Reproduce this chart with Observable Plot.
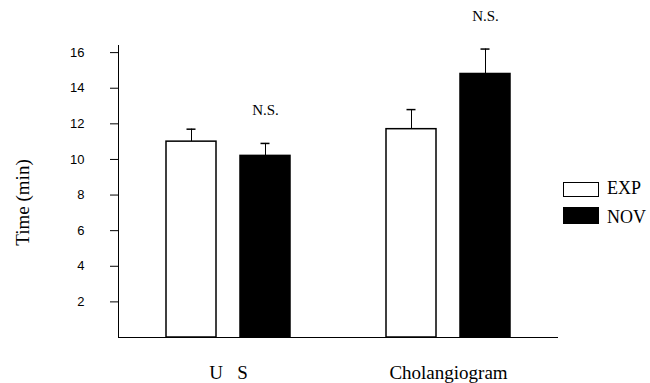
<!DOCTYPE html>
<html><head><meta charset="utf-8">
<script src="https://cdn.jsdelivr.net/npm/d3@7"></script>
<script src="https://cdn.jsdelivr.net/npm/@observablehq/plot@0.6"></script>
<style>
body{margin:0;background:#fff;}
#wrap{position:relative;width:650px;height:383px;background:#fff;}
.leg{position:absolute;left:563px;font-family:"Liberation Serif","Times New Roman",serif;font-size:18px;color:#000;line-height:1;}
.leg .box{position:absolute;left:0;width:36px;box-sizing:border-box;border:1.5px solid #000;}
.leg .lbl{position:absolute;left:44px;white-space:nowrap;}
</style></head><body><div id="wrap"></div>
<script>
const groups = ["U S", "Cholangiogram"];
const series = ["EXP", "NOV"];
const meansUS = [11.0, 10.2];
const meansChol = [11.7, 14.8];
const errUS = [0.7, 0.7];
const errChol = [1.1, 1.4];
const sigLabels = ["N.S.", "N.S."];
const yTicks = [2, 4, 6, 8, 10, 12, 14, 16];
const yLabel = "Time (min)";

const rows = [];
groups.forEach((g, gi) => {
  const m = gi === 0 ? meansUS : meansChol;
  const e = gi === 0 ? errUS : errChol;
  series.forEach((s, si) => rows.push({group: g, series: s, mean: m[si], top: m[si] + e[si]}));
});
const sigRows = groups.map((g, gi) => {
  const r = rows.filter(d => d.group === g && d.series === "NOV")[0];
  return {group: g, series: "NOV", top: r.top, label: sigLabels[gi]};
});

const serif = "Liberation Serif, Times New Roman, serif";
const chart = Plot.plot({
  width: 650,
  height: 383,
  marginLeft: 118,
  marginRight: 92,
  marginTop: 45,
  marginBottom: 46,
  style: {background: "#fff", color: "#000"},
  fx: {domain: groups, padding: 0, label: null},
  x: {domain: series, paddingInner: 0.324, paddingOuter: 0.648, axis: null},
  y: {domain: [0, 16.4], axis: null},
  marks: [
    Plot.axisFx({anchor: "bottom", tickSize: 0, tickPadding: 28, fontSize: 19, fontFamily: serif, label: null,
      tickFormat: d => d.replace(" ", "\u00a0\u00a0\u00a0")}),
    Plot.axisY({ticks: yTicks, tickSize: 8, tickPadding: 26, fontSize: 13, fontFamily: "Liberation Sans, Arial, sans-serif", label: null, strokeWidth: 1}),
    Plot.frame({anchor: "left", fx: [groups[0]], stroke: "#000", strokeWidth: 1}),
    Plot.text([yLabel], {fx: () => groups[0], frameAnchor: "left", textAnchor: "middle", rotate: -90, dx: -96, dy: 11, fontSize: 19, fontFamily: serif, fill: "#000"}),
    Plot.ruleX(rows, {fx: "group", x: "series", y1: "mean", y2: "top", stroke: "#000", strokeWidth: 1}),
    Plot.tickY(rows, {fx: "group", x: "series", y: "top", stroke: "#000", strokeWidth: 1.5, insetLeft: 20.5, insetRight: 20.5}),
    Plot.barY(rows, {fx: "group", x: "series", y: "mean", fill: d => d.series === "EXP" ? "#fff" : "#000", stroke: "#000", strokeWidth: 1.5}),
    Plot.ruleY([0], {stroke: "#000", strokeWidth: 1.2}),
    Plot.text(sigRows, {fx: "group", x: "series", y: "top", text: "label", dy: -33, fontSize: 15, fontFamily: serif, fill: "#000"})
  ]
});
const wrap = document.getElementById("wrap");
wrap.appendChild(chart);
series.forEach((s, i) => {
  const item = document.createElement("div");
  item.className = "leg";
  item.style.top = (i === 0 ? 182 : 207) + "px";
  const box = document.createElement("div");
  box.className = "box";
  box.style.height = (i === 0 ? 15 : 17) + "px";
  box.style.background = i === 0 ? "#fff" : "#000";
  const lbl = document.createElement("span");
  lbl.className = "lbl";
  lbl.style.top = (i === 0 ? -3 : 1) + "px";
  lbl.textContent = s;
  item.appendChild(box);
  item.appendChild(lbl);
  wrap.appendChild(item);
});
</script></body></html>
